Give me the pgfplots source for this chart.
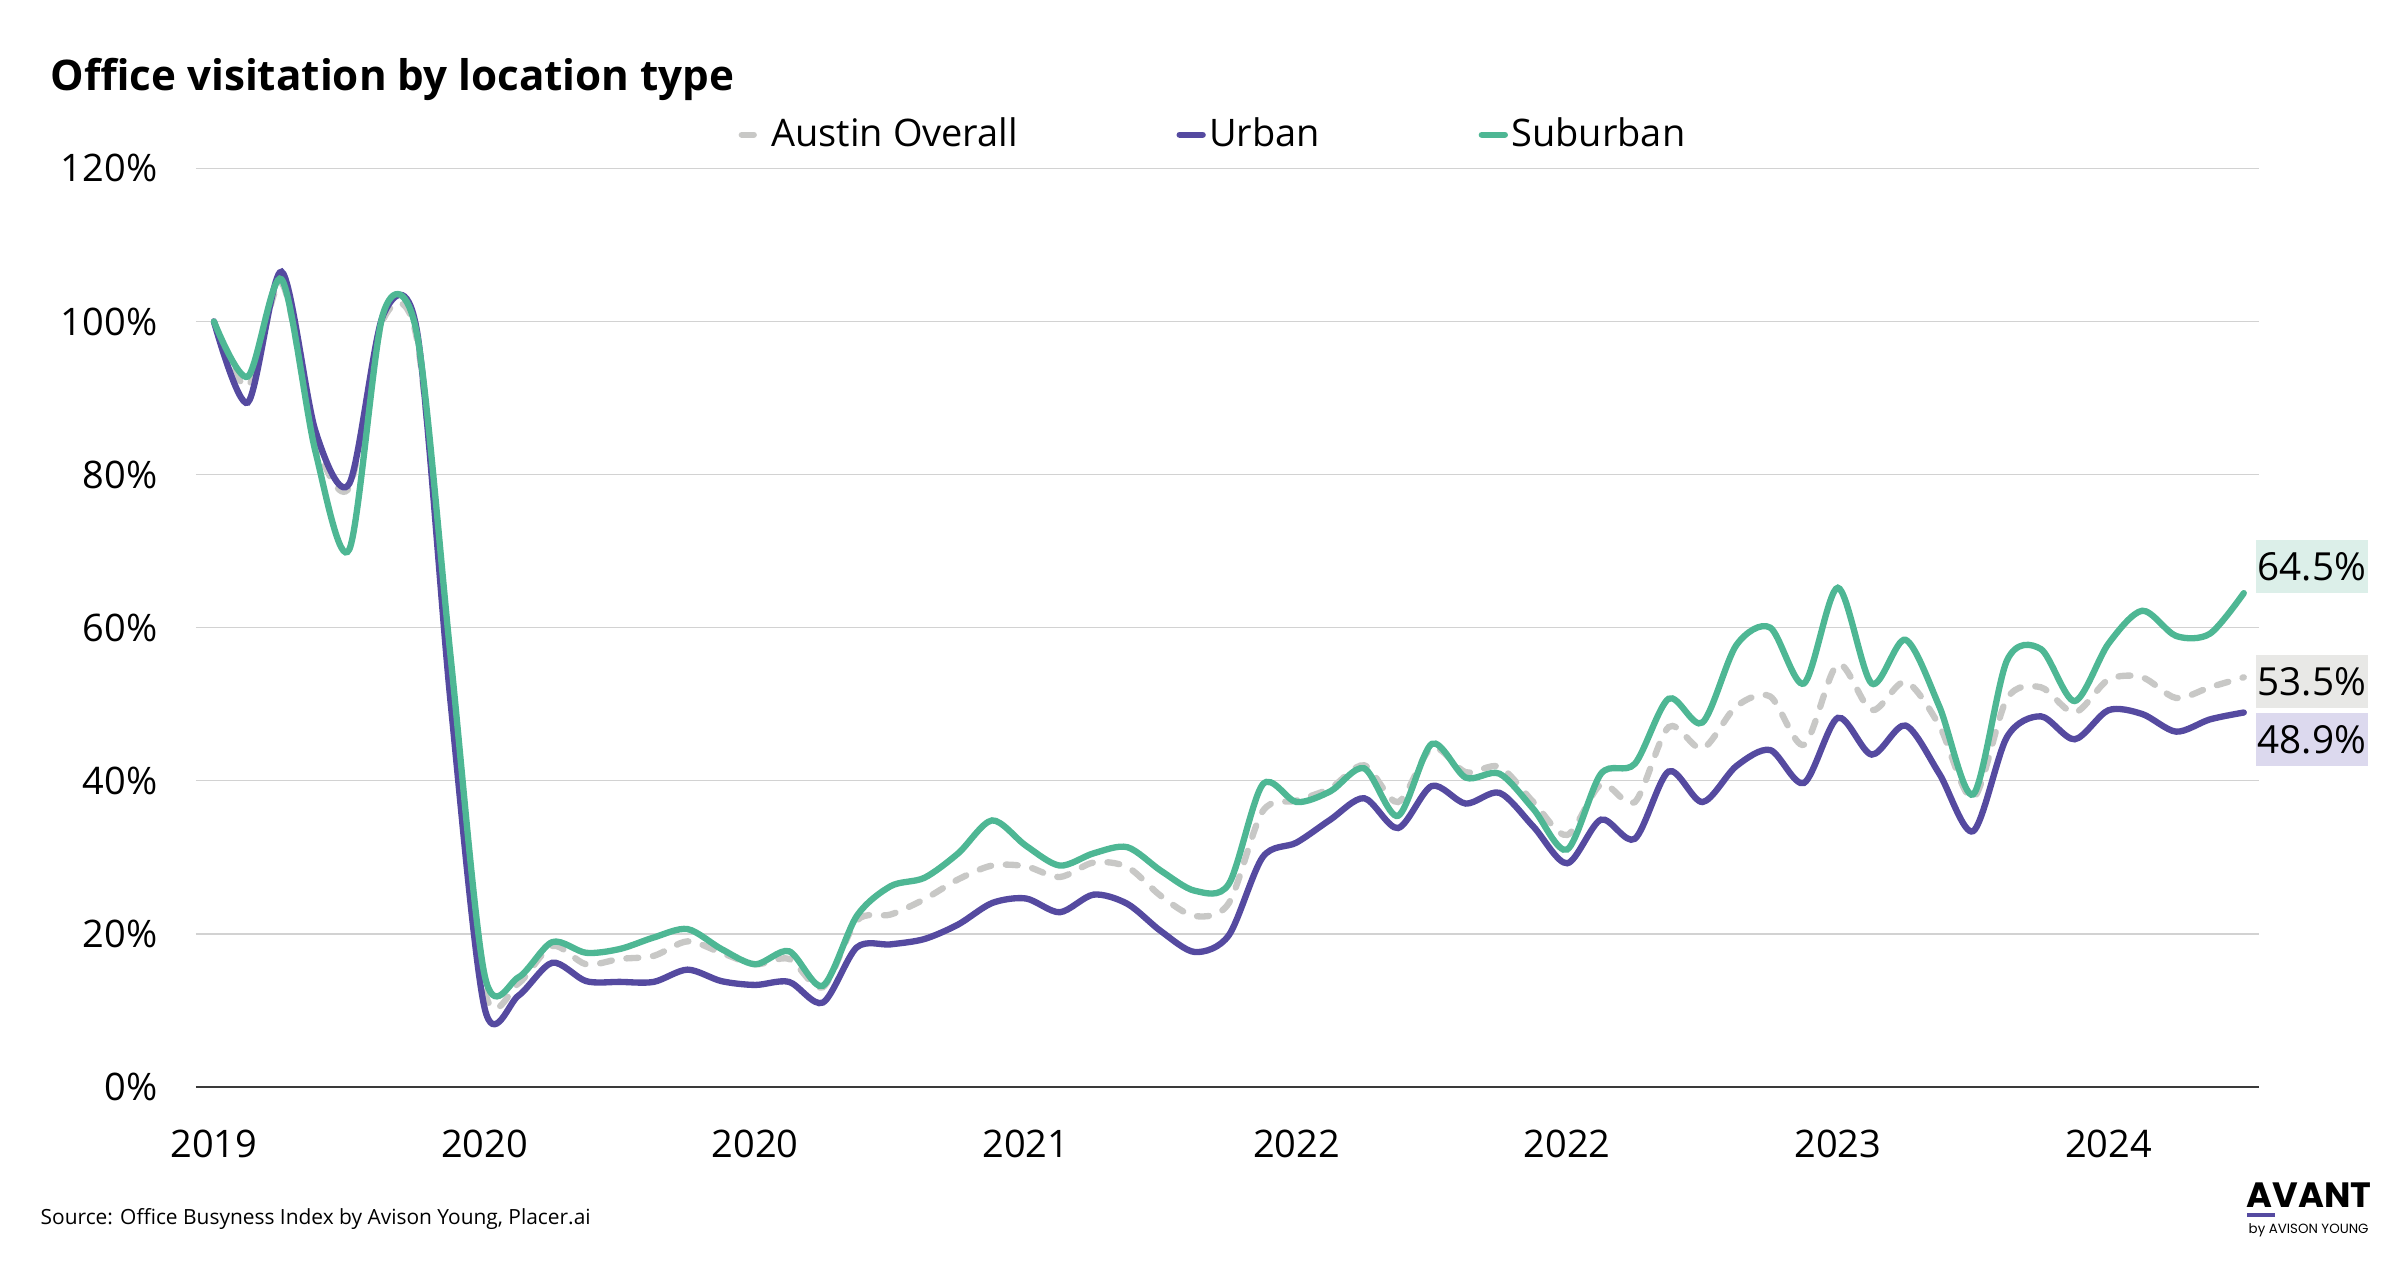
\documentclass[border=0pt]{standalone}
\usepackage{pgfplots}
\pgfplotsset{compat=1.18}
\usepackage{pgfplotstable}
\usepackage{fontspec}
\setmainfont{Open Sans}
\newfontfamily\logofont{Poppins}

\definecolor{urban}{HTML}{554AA0}
\definecolor{suburban}{HTML}{4EB794}
\definecolor{overall}{HTML}{C8C8C6}
\definecolor{gridgray}{HTML}{D2D2D2}
\definecolor{axisgray}{HTML}{3A3A3A}
\definecolor{boxgreen}{HTML}{DCEFE9}
\definecolor{boxgray}{HTML}{E8E8E6}
\definecolor{boxpurple}{HTML}{DCD9EE}

% office visitation index, % of pre-pandemic level (one row per period)
\pgfplotstableread{
i  overall urban suburban
0  100.0 100.0 100.0
1  91.5  89.4  92.8
2  105.0 106.5 105.5
3  84.5  85.7  83.0
4  78.3  78.8  70.2
5  100.2 100.8 101.0
6  97.7  98.8  98.4
7  53.0  50.0  56.0
8  12.6  10.3  14.6
9  13.5  11.9  14.3
10 18.4  16.2  18.9
11 16.0  13.8  17.5
12 16.7  13.7  18.0
13 17.1  13.7  19.5
14 19.0  15.3  20.6
15 17.5  13.8  18.0
16 16.0  13.3  16.0
17 16.7  13.7  17.7
18 13.0  11.0  13.2
19 21.7  18.2  22.3
20 22.5  18.6  26.2
21 24.5  19.3  27.3
22 27.1  21.2  30.5
23 28.9  24.0  34.8
24 28.8  24.6  31.5
25 27.4  22.8  28.9
26 29.3  25.1  30.5
27 28.7  23.9  31.3
28 24.9  20.3  28.2
29 22.3  17.6  25.6
30 24.0  19.8  26.5
31 36.0  30.0  39.5
32 37.4  31.9  37.2
33 39.0  34.9  38.6
34 42.0  37.7  41.6
35 37.2  33.8  35.4
36 44.3  39.3  44.8
37 41.1  37.0  40.4
38 41.8  38.4  40.9
39 37.2  34.0  36.3
40 32.9  29.2  31.0
41 39.5  34.9  40.9
42 37.2  32.4  42.2
43 47.0  41.2  50.7
44 44.2  37.2  47.6
45 49.7  41.9  57.7
46 51.0  44.0  60.0
47 44.7  39.7  52.7
48 55.2  48.2  65.2
49 49.2  43.4  52.7
50 52.9  47.2  58.4
51 47.2  40.9  49.7
52 37.7  33.4  38.2
53 50.7  45.7  55.7
54 52.2  48.4  57.2
55 48.9  45.4  50.4
56 53.2  49.2  57.9
57 53.5  48.7  62.2
58 50.8  46.4  58.9
59 52.2  48.0  59.2
60 53.5  48.9  64.5
}\visits

\begin{document}
\begin{tikzpicture}
\path[use as bounding box] (-1.96cm,-1.733cm) rectangle (22.04cm,10.867cm);
\begin{axis}[
    scale only axis,
    width=20.63cm, height=9.183cm,
    xmin=-0.53, xmax=60.45,
    ymin=0, ymax=120,
    clip=false,
    axis x line*=bottom, axis y line*=left,
    x axis line style={-, draw=axisgray, line width=0.6pt},
    y axis line style={draw=none},
    major tick length=0pt,
    xtick={0,8,...,56},
    xticklabels={2019,2020,2020,2021,2022,2022,2023,2024},
    ytick={0,20,...,120},
    yticklabels={0\%,20\%,40\%,60\%,80\%,100\%,120\%},
    ymajorgrids,
    grid style={gridgray, line width=0.5pt},
    tick label style={font=\fontsize{10.8}{13}\selectfont},
    yticklabel style={inner sep=0pt, xshift=-10.8pt},
    xticklabel style={inner sep=0pt, yshift=-12pt},
    legend columns=-1,
    legend cell align=left,
    legend image code/.code={\draw[#1, line cap=round] (0cm,0cm) -- (0.23cm,0cm);},
    legend style={at={(axis description cs:0.2627,1.0367)}, anchor=west,
        draw=none, fill=none, inner sep=0pt,
        font=\fontsize{10.8}{13}\selectfont,
        nodes={inner sep=1pt},
        /tikz/every even column/.append style={column sep=1.55cm}},
]
\addplot[overall, line width=1.8pt, line cap=round, dash pattern=on 3.4pt off 4.2pt, smooth]
    table[x=i, y=overall] {\visits};
\addlegendentry{Austin Overall}
\addplot[urban, line width=1.8pt, line cap=round, smooth]
    table[x=i, y=urban] {\visits};
\addlegendentry{Urban}
\addplot[suburban, line width=1.8pt, line cap=round, smooth]
    table[x=i, y=suburban] {\visits};
\addlegendentry{Suburban}
\end{axis}

\node[anchor=base west, inner sep=0pt, font=\bfseries\fontsize{12}{14}\selectfont]
    at (-1.46cm,9.967cm) {Office visitation by location type};

% end-of-line value labels
\begin{scope}[every node/.style={anchor=south west, inner sep=0pt,
        minimum width=1.12cm, minimum height=0.53cm,
        font=\fontsize{11}{13}\selectfont}]
\node[fill=boxgreen]  at (20.59cm,4.927cm) {64.5\%};
\node[fill=boxgray]   at (20.59cm,3.777cm) {53.5\%};
\node[fill=boxpurple] at (20.59cm,3.197cm) {48.9\%};
\end{scope}

\node[anchor=base west, inner sep=0pt, font=\fontsize{5.95}{8}\selectfont]
    at (-1.56cm,-1.373cm) {Source: Office Busyness Index by Avison Young, Placer.ai};

\node[anchor=base west, inner sep=0pt, font=\logofont\bfseries\fontsize{10}{12}\selectfont]
    at (20.5cm,-1.203cm) {AVANT};
\fill[urban] (20.51cm,-1.263cm) rectangle (20.79cm,-1.303cm);
\node[anchor=base west, inner sep=0pt, font=\logofont\fontsize{3.8}{5}\selectfont]
    at (20.52cm,-1.463cm) {by AVISON YOUNG};
\end{tikzpicture}
\end{document}
